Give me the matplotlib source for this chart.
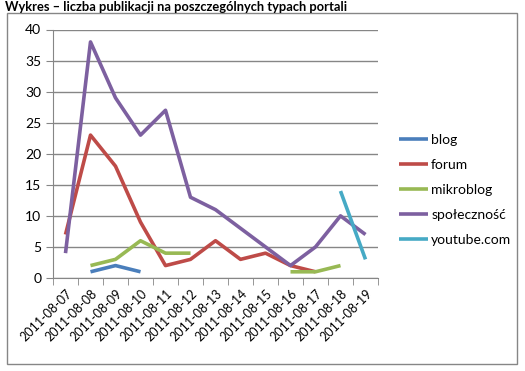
import matplotlib
matplotlib.use("Agg")
import matplotlib.pyplot as plt
import numpy as np
from matplotlib.patches import Rectangle

dates = ["2011-08-07", "2011-08-08", "2011-08-09", "2011-08-10", "2011-08-11",
         "2011-08-12", "2011-08-13", "2011-08-14", "2011-08-15", "2011-08-16",
         "2011-08-17", "2011-08-18", "2011-08-19"]
nan = np.nan
blog = [nan, 1, 2, 1, nan, nan, nan, nan, nan, nan, nan, nan, nan]
forum = [7, 23, 18, 9, 2, 3, 6, 3, 4, 2, 1, nan, nan]
mikroblog = [nan, 2, 3, 6, 4, 4, nan, nan, nan, 1, 1, 2, nan]
spolecznosc = [4, 38, 29, 23, 27, 13, 11, 8, 5, 2, 5, 10, 7]
youtube = [nan, nan, nan, nan, nan, nan, nan, nan, nan, nan, nan, 14, 3]

series = [("blog", blog, "#4a7ebb"), ("forum", forum, "#be4b48"),
          ("mikroblog", mikroblog, "#98b954"), ("społeczność", spolecznosc, "#7d60a0"),
          ("youtube.com", youtube, "#46aac5")]

plt.rcParams['font.family'] = ['Lato', 'DejaVu Sans']

W, H = 525, 371
fig = plt.figure(figsize=(W/100, H/100), dpi=100)
ax = fig.add_axes([53/W, 1-278/H, (378-53)/W, (278-29.5)/H])

x = np.arange(len(dates))
for name, vals, col in series:
    ax.plot(x, vals, color=col, lw=2.6, label=name, solid_capstyle='butt')

ax.set_xlim(-0.5, len(dates)-0.5)
ax.set_ylim(0, 40)
ax.set_yticks(range(0, 41, 5))
ax.yaxis.grid(True, color='#868686', lw=1)
ax.set_axisbelow(True)
for s in ['top', 'right']:
    ax.spines[s].set_visible(False)
for s in ['left', 'bottom']:
    ax.spines[s].set_color('#868686')
ax.set_xticks(x)
ax.set_xticklabels(dates, rotation=45, ha='right', rotation_mode='anchor', fontsize=9)
ax.set_xticks(np.arange(-0.5, len(dates)), minor=True)
ax.tick_params(axis='x', which='major', length=0, pad=7)
ax.tick_params(axis='x', which='minor', length=5, color='#868686')
ax.tick_params(axis='y', length=5, color='#868686', labelsize=10)

leg = fig.legend(loc='upper left', bbox_to_anchor=(386/W, 1-121/H), frameon=False,
                 fontsize=10, handlelength=2.1, handletextpad=0.25, labelspacing=0.95)

fig.patches.append(Rectangle((7/W, 1-364/H), (517-7)/W, (364-13)/H, transform=fig.transFigure,
                             fill=False, edgecolor='#868686', lw=1))
fig.text(5/W, 1-7/H, "Wykres – liczba publikacji na poszczególnych typach portali",
         fontsize=9.3, fontweight='bold', va='center', ha='left')

fig.savefig("out.png", dpi=100)
